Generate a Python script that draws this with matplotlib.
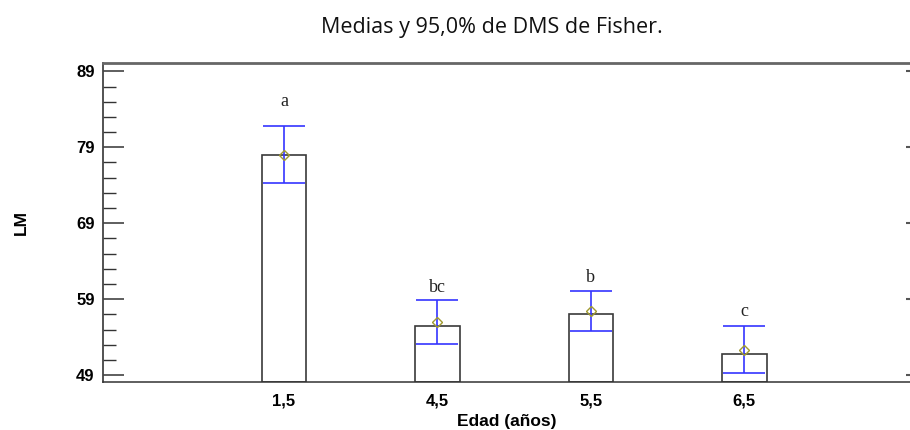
import matplotlib
matplotlib.use("Agg")
import matplotlib.pyplot as plt
from matplotlib.ticker import MultipleLocator
import numpy as np

categories = ["1,5", "4,5", "5,5", "6,5"]
bar_tops = [78.0, 55.5, 57.1, 51.8]
means = [78.0, 56.0, 57.4, 52.3]
ci_low = [74.3, 53.1, 54.85, 49.35]
ci_high = [81.8, 58.85, 60.1, 55.5]
letters = ["a", "bc", "b", "c"]
letter_y = [85.0, 60.5, 61.8, 57.4]
yticks = [49, 59, 69, 79, 89]

fig = plt.figure(figsize=(9.1, 4.3), dpi=100)
ax = fig.add_axes([0.1132, 0.1116, 0.8868, 0.7419])

ymin, ymax = 48.1, 90.1
x = np.arange(len(categories))
ax.bar(x, np.array(bar_tops) - ymin, bottom=ymin, width=0.29,
       facecolor="white", edgecolor="#3a3a3a", linewidth=1.2, zorder=2)
yerr = [np.array(means) - np.array(ci_low), np.array(ci_high) - np.array(means)]
ax.errorbar(x, means, yerr=yerr, fmt="none", ecolor="#3535ff",
            elinewidth=1.2, capsize=15, capthick=1.2, zorder=3)
ax.plot(x, means, linestyle="none", marker="D", markersize=5.5,
        markerfacecolor="none", markeredgecolor="#a09a30",
        markeredgewidth=1.0, zorder=4)
for xi, lab, ly in zip(x, letters, letter_y):
    ax.text(xi, ly, lab, ha="center", va="center", fontsize=13,
            family="Liberation Serif", color="#222222")

ax.set_xlim(-1.18, 3 + 1.08)
ax.set_ylim(ymin, ymax)
ax.set_xticks(x)
ax.set_xticklabels(categories, fontsize=12, fontweight="bold",
                   family="Liberation Sans")
ax.set_yticks(yticks)
ax.set_yticklabels([str(v) for v in yticks], fontsize=12,
                   fontweight="bold", family="Liberation Sans")
ax.yaxis.set_minor_locator(MultipleLocator(2, offset=1))
ax.tick_params(axis="x", length=0, pad=8)
ax.tick_params(axis="y", which="major", direction="in", length=15,
               width=1.1, color="#333333", pad=6)
ax.tick_params(axis="y", which="minor", direction="in", length=9,
               width=1.0, color="#333333")

# small right-hand tick marks
axr = ax.twinx()
axr.set_ylim(ymin, ymax)
axr.set_yticks(yticks)
axr.set_yticklabels([])
axr.tick_params(axis="y", direction="in", length=3, width=1.5,
                color="#555555")
for s in axr.spines.values():
    s.set_visible(False)

ax.spines["right"].set_visible(False)
ax.spines["left"].set_color("#444444")
ax.spines["left"].set_linewidth(1.3)
ax.spines["bottom"].set_color("#333333")
ax.spines["bottom"].set_linewidth(1.1)
ax.spines["top"].set_color("#666666")
ax.spines["top"].set_linewidth(2.0)

ax.set_xlabel("Edad (años)", fontsize=12.5, fontweight="bold",
              family="Liberation Sans", labelpad=4)
ax.set_ylabel("LM", fontsize=12.5, fontweight="bold",
              family="Liberation Sans", labelpad=34)

fig.text(0.54, 0.937, "Medias y 95,0% de DMS de Fisher.", ha="center",
         va="center", fontsize=15.5, family="Open Sans", color="#111111")

fig.savefig("out.png", dpi=100)
